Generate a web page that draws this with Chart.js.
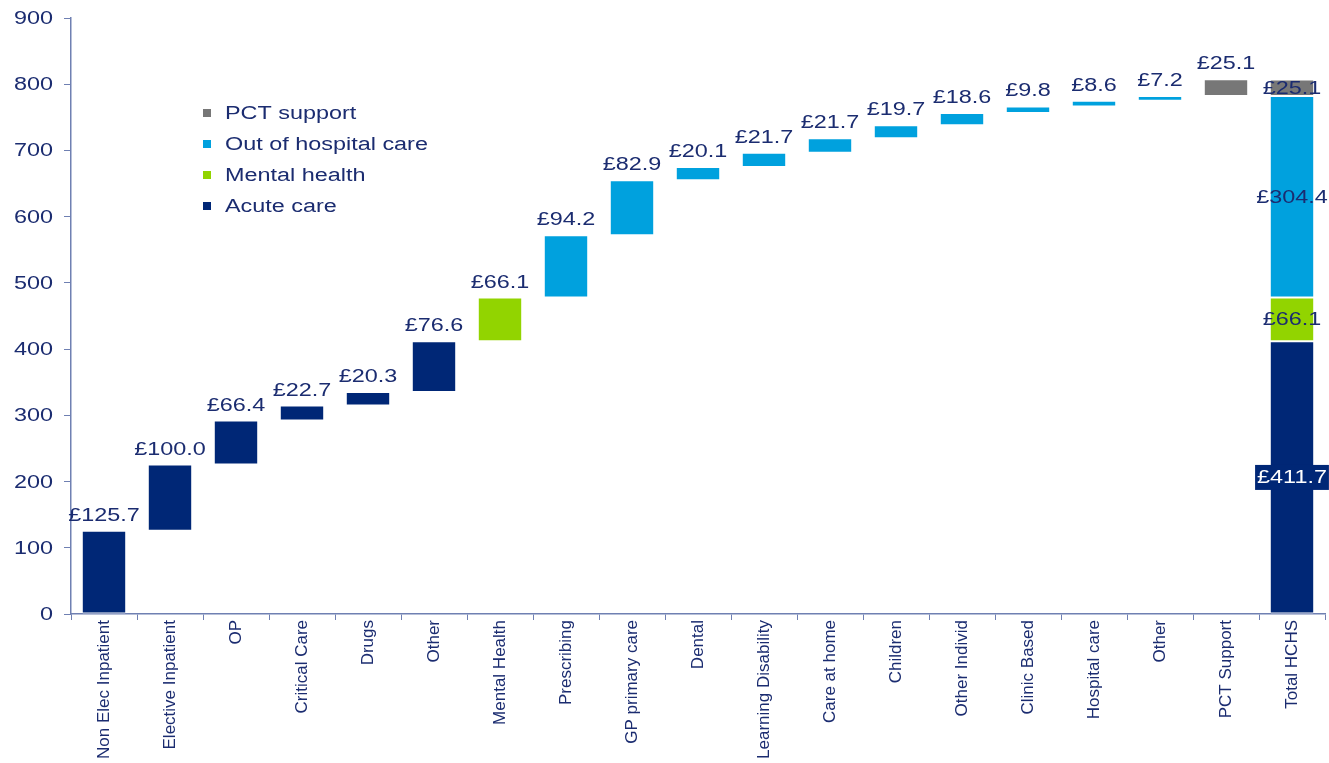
<!DOCTYPE html>
<html>
<head>
<meta charset="utf-8">
<title>HCHS spend build-up</title>
<script src="https://cdn.jsdelivr.net/npm/chart.js@4/dist/chart.umd.min.js"></script>
<style>
  html, body { margin: 0; padding: 0; background: #fff; }
  #wrap { width: 1329px; height: 763px; position: relative; }
</style>
</head>
<body>
<div id="wrap"><canvas id="chart"></canvas></div>
<script>
var categories = [
  "Non Elec Inpatient", "Elective Inpatient", "OP", "Critical Care", "Drugs", "Other",
  "Mental Health", "Prescribing", "GP primary care", "Dental", "Learning Disability",
  "Care at home", "Children", "Other Individ", "Clinic Based", "Hospital care", "Other",
  "PCT Support", "Total HCHS"
];

// step values, in column order
var acuteValues = [125.7, 100.0, 66.4, 22.7, 20.3, 76.6];
var mentalValues = [66.1];
var outOfHospitalValues = [94.2, 82.9, 20.1, 21.7, 21.7, 19.7, 18.6, 9.8, 8.6, 7.2];
var pctValues = [25.1];
// Total HCHS column, bottom to top
var totalValues = [411.7, 66.1, 304.4, 25.1];

var yMin = 0;
var yMax = 900;
var yStep = 100;

var NAVY = "#002776";
var GREEN = "#92d400";
var BLUE = "#00a1de";
var GREY = "#777777";
var TEXT = "#1b2c70";
var AXIS = "#6f80b2";
var FONT = "'Liberation Sans', Arial, sans-serif";
var HSCALE = 1.3; // horizontal text is drawn stretched

var groups = [
  { label: "Acute care", values: acuteValues, color: NAVY },
  { label: "Mental health", values: mentalValues, color: GREEN },
  { label: "Out of hospital care", values: outOfHospitalValues, color: BLUE },
  { label: "PCT support", values: pctValues, color: GREY }
];

var last = categories.length - 1;
var running = 0;
var col = 0;
var totalBase = 0;

var datasets = groups.map(function (g, gi) {
  var data = categories.map(function () { return null; });
  var amounts = data.slice();
  g.values.forEach(function (v) {
    data[col] = [running, running + v];
    amounts[col] = v;
    running += v;
    col++;
  });
  data[last] = [totalBase, totalBase + totalValues[gi]];
  amounts[last] = totalValues[gi];
  totalBase += totalValues[gi];
  return {
    label: g.label,
    data: data,
    amounts: amounts,
    backgroundColor: g.color,
    borderColor: "#ffffff",
    borderWidth: { top: 1, bottom: 1, left: 0, right: 0 },
    borderSkipped: false,
    grouped: false,
    categoryPercentage: 0.65,
    barPercentage: 1
  };
});

function drawWide(ctx, text, x, y, align, baseline, color) {
  ctx.save();
  ctx.font = "18px " + FONT;
  ctx.fillStyle = color;
  ctx.textAlign = align;
  ctx.textBaseline = baseline;
  ctx.translate(x, y);
  ctx.scale(HSCALE, 1);
  ctx.fillText(text, 0, 0);
  ctx.restore();
}

var waterfallText = {
  id: "waterfallText",
  afterDatasetsDraw: function (chart) {
    var ctx = chart.ctx;
    chart.data.datasets.forEach(function (ds, di) {
      var meta = chart.getDatasetMeta(di);
      meta.data.forEach(function (bar, i) {
        var amt = ds.amounts[i];
        if (amt == null) return;
        var text = "£" + amt.toFixed(1);
        var p = bar.getProps(["x", "y", "base"], true);
        if (i < last) {
          drawWide(ctx, text, p.x, p.y - 10, "center", "alphabetic", TEXT);
          return;
        }
        var cy = (p.y + p.base) / 2;
        if (di === 0) {
          ctx.save();
          ctx.font = "18px " + FONT;
          var w = ctx.measureText(text).width * HSCALE;
          ctx.fillStyle = NAVY;
          ctx.fillRect(p.x - w / 2 - 2, cy - 12.5, w + 4, 25);
          ctx.restore();
          drawWide(ctx, text, p.x, cy + 1, "center", "middle", "#ffffff");
        } else {
          drawWide(ctx, text, p.x, cy + 1, "center", "middle", TEXT);
        }
      });
    });
  },
  afterDraw: function (chart) {
    var ctx = chart.ctx;
    var area = chart.chartArea;
    var y = chart.scales.y;

    // y tick labels
    y.ticks.forEach(function (t) {
      drawWide(ctx, String(t.value), area.left - 18, y.getPixelForValue(t.value) + 1, "right", "middle", TEXT);
    });

    // legend, top row first
    var lx = area.left + 132;
    var ly = area.top + 95;
    groups.slice().reverse().forEach(function (g, k) {
      var ry = ly + k * 31;
      ctx.fillStyle = g.color;
      ctx.fillRect(lx, ry - 4, 8, 8);
      drawWide(ctx, g.label, lx + 22, ry + 1, "left", "middle", TEXT);
    });
  }
};

new Chart(document.getElementById("chart"), {
  type: "bar",
  data: { labels: categories, datasets: datasets },
  plugins: [waterfallText],
  options: {
    responsive: true,
    maintainAspectRatio: false,
    animation: false,
    layout: { padding: { left: 0, right: 4, top: 18, bottom: 0 } },
    plugins: {
      legend: { display: false },
      tooltip: { enabled: false }
    },
    scales: {
      x: {
        afterFit: function (scale) { scale.height = 149; },
        border: { color: AXIS, width: 1.5 },
        grid: { drawOnChartArea: false, color: AXIS, tickLength: 6, offset: true },
        ticks: {
          color: TEXT,
          minRotation: 90,
          maxRotation: 90,
          autoSkip: false,
          padding: 0,
          font: { family: FONT, size: 17 }
        }
      },
      y: {
        min: yMin,
        max: yMax,
        afterFit: function (scale) { scale.width = 71; },
        border: { color: AXIS, width: 1.5 },
        grid: { drawOnChartArea: false, color: AXIS, tickLength: 7 },
        ticks: {
          stepSize: yStep,
          color: "rgba(0,0,0,0)",
          font: { family: FONT, size: 18 }
        }
      }
    }
  }
});
</script>
</body>
</html>
